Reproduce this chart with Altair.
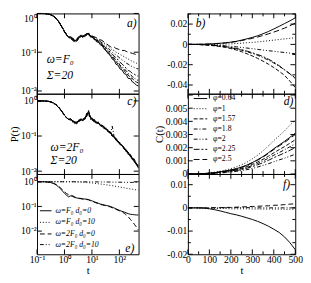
import altair as alt
import pandas as pd

FONT = "Liberation Serif"

# ---------------- data: left (log-log) panels ----------------
T_EARLY = [0.1, 0.15, 0.2, 0.25, 0.3, 0.4, 0.5, 0.6, 0.7, 0.85, 1.0, 1.2, 1.4]
T_LATE = [1.7, 2.0, 2.4, 2.8, 3.3, 4.0, 4.7, 5.5, 6.5, 7.5, 9.0, 10.5, 12, 14,
          17, 20, 24, 28, 33, 40, 47, 55, 65, 75, 90, 105, 125, 150, 175, 210,
          250, 300, 350, 420, 500]

P_EARLY_A = [1.0, 0.998, 0.99, 0.97, 0.94, 0.85, 0.74, 0.63, 0.53, 0.42, 0.34, 0.28, 0.245]
P_EARLY_C = [1.0, 0.998, 0.99, 0.975, 0.95, 0.87, 0.77, 0.67, 0.58, 0.47, 0.39, 0.33, 0.3]
P_EARLY_FLAT = [1.0, 1.0, 1.0, 1.0, 1.0, 1.0, 1.0, 1.0, 1.0, 1.0, 1.0, 1.0, 1.0]

# panel a (omega = F0, Sigma = 20)
A_064 = [0.24, 0.22, 0.2, 0.21, 0.25, 0.26, 0.25, 0.28, 0.3, 0.3, 0.26, 0.25, 0.22, 0.21,
         0.19, 0.155, 0.15, 0.12, 0.108, 0.09, 0.082, 0.066, 0.062, 0.049, 0.046, 0.037,
         0.035, 0.028, 0.027, 0.021, 0.021, 0.017, 0.016, 0.014, 0.0135]
A_1 = [0.23, 0.21, 0.2, 0.21, 0.24, 0.28, 0.25, 0.27, 0.31, 0.28, 0.26, 0.25, 0.24, 0.23,
       0.21, 0.2, 0.185, 0.17, 0.155, 0.14, 0.125, 0.115, 0.11, 0.1, 0.094, 0.088,
       0.082, 0.077, 0.072, 0.067, 0.062, 0.058, 0.055, 0.052, 0.05]
A_157 = [0.24, 0.21, 0.2, 0.19, 0.23, 0.27, 0.25, 0.26, 0.28, 0.32, 0.25, 0.24, 0.23, 0.19,
         0.18, 0.175, 0.14, 0.13, 0.11, 0.097, 0.082, 0.075, 0.063, 0.058, 0.048, 0.044,
         0.037, 0.034, 0.028, 0.026, 0.022, 0.021, 0.018, 0.017, 0.016]
A_18 = [0.23, 0.2, 0.18, 0.2, 0.24, 0.24, 0.26, 0.25, 0.3, 0.28, 0.26, 0.23, 0.22, 0.2,
        0.2, 0.165, 0.16, 0.13, 0.12, 0.1, 0.092, 0.078, 0.072, 0.06, 0.056, 0.046,
        0.043, 0.036, 0.034, 0.028, 0.027, 0.023, 0.022, 0.019, 0.019]
A_2 = [0.24, 0.22, 0.19, 0.2, 0.23, 0.25, 0.27, 0.26, 0.29, 0.3, 0.25, 0.24, 0.22, 0.22,
       0.2, 0.19, 0.17, 0.155, 0.14, 0.125, 0.11, 0.1, 0.092, 0.085, 0.077, 0.07,
       0.064, 0.058, 0.053, 0.049, 0.045, 0.042, 0.04, 0.038, 0.037]
A_225 = [0.22, 0.2, 0.19, 0.22, 0.22, 0.26, 0.24, 0.29, 0.27, 0.31, 0.24, 0.26, 0.21, 0.21,
         0.19, 0.175, 0.16, 0.14, 0.13, 0.11, 0.1, 0.088, 0.08, 0.07, 0.064, 0.055,
         0.05, 0.043, 0.039, 0.034, 0.032, 0.028, 0.027, 0.025, 0.024]
A_25 = [0.25, 0.23, 0.21, 0.22, 0.25, 0.27, 0.26, 0.28, 0.3, 0.29, 0.27, 0.26, 0.25, 0.24,
        0.22, 0.21, 0.2, 0.18, 0.17, 0.15, 0.14, 0.13, 0.135, 0.125, 0.12, 0.115,
        0.11, 0.112, 0.105, 0.1, 0.097, 0.093, 0.09, 0.087, 0.084]

# panel c (omega = 2F0, Sigma = 20)
C_064 = [0.3, 0.27, 0.25, 0.24, 0.28, 0.3, 0.27, 0.33, 0.4, 0.5, 0.33, 0.3, 0.28, 0.25,
         0.24, 0.2, 0.2, 0.17, 0.16, 0.13, 0.13, 0.1, 0.095, 0.075, 0.07, 0.058,
         0.055, 0.042, 0.04, 0.03, 0.029, 0.021, 0.02, 0.015, 0.0125]
C_1 = [0.28, 0.25, 0.22, 0.26, 0.25, 0.32, 0.29, 0.3, 0.37, 0.42, 0.3, 0.28, 0.26, 0.27,
       0.22, 0.22, 0.18, 0.19, 0.15, 0.15, 0.12, 0.12, 0.088, 0.088, 0.065, 0.066,
       0.05, 0.048, 0.036, 0.035, 0.025, 0.025, 0.018, 0.017, 0.014]
C_157 = [0.31, 0.26, 0.24, 0.22, 0.27, 0.28, 0.3, 0.31, 0.45, 0.38, 0.35, 0.27, 0.3, 0.23,
         0.25, 0.2, 0.19, 0.16, 0.17, 0.13, 0.125, 0.1, 0.1, 0.08, 0.072, 0.06,
         0.056, 0.045, 0.041, 0.033, 0.03, 0.023, 0.021, 0.016, 0.0135]
C_18 = [0.29, 0.28, 0.23, 0.25, 0.26, 0.3, 0.28, 0.35, 0.36, 0.55, 0.3, 0.32, 0.26, 0.26,
        0.23, 0.21, 0.2, 0.18, 0.15, 0.145, 0.115, 0.19, 0.09, 0.083, 0.066, 0.063,
        0.05, 0.046, 0.037, 0.032, 0.027, 0.022, 0.019, 0.0155, 0.013]
C_2 = [0.3, 0.26, 0.26, 0.23, 0.29, 0.27, 0.31, 0.3, 0.39, 0.44, 0.32, 0.29, 0.27, 0.24,
       0.25, 0.19, 0.21, 0.165, 0.165, 0.125, 0.13, 0.1, 0.096, 0.078, 0.07, 0.057,
       0.056, 0.043, 0.042, 0.031, 0.03, 0.022, 0.022, 0.016, 0.015]
C_225 = [0.28, 0.27, 0.24, 0.24, 0.26, 0.29, 0.27, 0.32, 0.42, 0.4, 0.31, 0.3, 0.25, 0.25,
         0.22, 0.21, 0.18, 0.18, 0.15, 0.14, 0.12, 0.11, 0.09, 0.09, 0.066, 0.065,
         0.05, 0.047, 0.037, 0.034, 0.026, 0.024, 0.018, 0.017, 0.012]
C_25 = [0.31, 0.25, 0.25, 0.22, 0.27, 0.31, 0.28, 0.31, 0.38, 0.47, 0.34, 0.28, 0.29, 0.24,
        0.24, 0.2, 0.2, 0.17, 0.16, 0.135, 0.125, 0.105, 0.095, 0.08, 0.07, 0.06,
        0.054, 0.044, 0.039, 0.032, 0.028, 0.022, 0.02, 0.0155, 0.0135]

# panel e
E_F0_D0 = [0.27, 0.25, 0.23, 0.22, 0.215, 0.21, 0.2, 0.2, 0.195, 0.19, 0.175, 0.165, 0.155, 0.145,
           0.135, 0.125, 0.12, 0.115, 0.11, 0.105, 0.1, 0.093, 0.086, 0.08, 0.073, 0.068,
           0.063, 0.059, 0.055, 0.051, 0.048, 0.047, 0.046, 0.045, 0.045]
E_F0_D10 = [1.0, 0.995, 0.99, 0.98, 0.97, 0.96, 0.95, 0.94, 0.93, 0.92, 0.9, 0.89, 0.87, 0.85,
            0.83, 0.81, 0.79, 0.77, 0.75, 0.73, 0.71, 0.69, 0.67, 0.65, 0.63, 0.61,
            0.59, 0.57, 0.55, 0.53, 0.51, 0.5, 0.48, 0.47, 0.46]
E_2F0_D0 = [0.29, 0.27, 0.24, 0.22, 0.21, 0.205, 0.2, 0.2, 0.19, 0.185, 0.17, 0.16, 0.15, 0.14,
            0.13, 0.12, 0.115, 0.11, 0.105, 0.1, 0.095, 0.088, 0.082, 0.076, 0.07, 0.065,
            0.06, 0.053, 0.046, 0.038, 0.03, 0.024, 0.019, 0.0145, 0.011]
E_2F0_D10 = [1.0, 1.0, 1.0, 1.0, 0.998, 0.997, 0.996, 0.995, 0.994, 0.993, 0.99, 0.99, 0.988, 0.986,
             0.984, 0.982, 0.98, 0.978, 0.976, 0.973, 0.97, 0.968, 0.965, 0.962, 0.96, 0.957,
             0.954, 0.95, 0.947, 0.944, 0.94, 0.937, 0.934, 0.93, 0.927]

# ---------------- data: right (linear) panels ----------------
T_R = [0, 25, 50, 75, 100, 125, 150, 175, 200, 225, 250, 275, 300, 325, 350, 375, 400, 425, 450, 475, 500]

B_064 = [0, 0, 0.0001, 0.0002, 0.0004, 0.0007, 0.0011, 0.0016, 0.0022, 0.003, 0.0042, 0.0055,
         0.0069, 0.0085, 0.0105, 0.0127, 0.0152, 0.0178, 0.0205, 0.0232, 0.0262]
B_1 = [0, 0, 0, 0, 0, 0.0001, 0.0002, 0.0003, 0.0005, 0.0008, 0.0012, 0.0016,
       0.002, 0.0025, 0.003, 0.0036, 0.0042, 0.0048, 0.0054, 0.006, 0.0066]
B_157 = [0, 0, -0.0002, -0.0005, -0.0009, -0.0014, -0.0021, -0.003, -0.0041, -0.0055, -0.0072, -0.0092,
         -0.0114, -0.0138, -0.0165, -0.0195, -0.0228, -0.0265, -0.0305, -0.0362, -0.0425]
B_18 = [0, 0, -0.0001, -0.0003, -0.0006, -0.0011, -0.0017, -0.0024, -0.0033, -0.0044, -0.0057, -0.0072,
        -0.0089, -0.0108, -0.013, -0.0155, -0.0183, -0.0215, -0.025, -0.029, -0.0335]
B_2 = [0, 0, -0.0001, -0.0002, -0.0004, -0.0007, -0.001, -0.0014, -0.0019, -0.0024, -0.003, -0.0036,
       -0.0042, -0.0049, -0.0056, -0.0062, -0.0068, -0.0074, -0.008, -0.0086, -0.0092]
B_225 = [0, 0, -0.0001, -0.0003, -0.0006, -0.001, -0.0015, -0.0022, -0.003, -0.004, -0.0052, -0.0066,
         -0.0082, -0.01, -0.012, -0.0145, -0.0175, -0.021, -0.025, -0.029, -0.033]
B_25 = [0, 0, 0.0001, 0.0002, 0.0004, 0.0006, 0.001, 0.0014, 0.002, 0.0028, 0.0038, 0.0049,
        0.006, 0.0073, 0.0088, 0.0104, 0.0121, 0.014, 0.016, 0.0184, 0.021]

D_064 = [0, 0.000003, 0.000012, 0.00003, 0.00006, 0.0001, 0.00016, 0.00023, 0.00031, 0.0004, 0.00053,
         0.00068, 0.00087, 0.00109, 0.00133, 0.00161, 0.00192, 0.0022, 0.00248, 0.00279, 0.0031]
D_1 = [0, 0, 0.00002, 0.00004, 0.00008, 0.00014, 0.00021, 0.0003, 0.00041, 0.00054, 0.0007,
       0.0009, 0.00115, 0.00143, 0.00176, 0.00213, 0.00254, 0.0029, 0.00328, 0.0037, 0.0041]
D_157 = [0, 0, 0.00001, 0.00003, 0.00005, 0.00009, 0.00014, 0.0002, 0.00026, 0.00034, 0.00044,
         0.00057, 0.00073, 0.00091, 0.00112, 0.00135, 0.00161, 0.00185, 0.00208, 0.00234, 0.0026]
D_18 = [0, 0, 0.00001, 0.00002, 0.00005, 0.00008, 0.00012, 0.00017, 0.00023, 0.0003, 0.00039,
        0.0005, 0.00064, 0.0008, 0.00099, 0.0012, 0.00143, 0.00163, 0.00184, 0.00207, 0.0023]
D_2 = [0, 0, 0.00001, 0.00002, 0.00003, 0.00005, 0.00008, 0.00011, 0.00015, 0.0002, 0.00026,
       0.00033, 0.00042, 0.00053, 0.00065, 0.00078, 0.00093, 0.00107, 0.0012, 0.00135, 0.0015]
D_225 = [0, 0, 0.00001, 0.00002, 0.00004, 0.00007, 0.0001, 0.00015, 0.0002, 0.00026, 0.00034,
         0.00044, 0.00056, 0.0007, 0.00086, 0.00104, 0.00124, 0.00142, 0.0016, 0.0018, 0.002]
D_25 = [0, 0, 0.00001, 0.00003, 0.00006, 0.0001, 0.00016, 0.00023, 0.0003, 0.00039, 0.00051,
        0.00066, 0.00084, 0.00105, 0.00129, 0.00156, 0.00186, 0.00213, 0.0024, 0.0027, 0.003]

F_F0_D0 = [0, 0, 0, -0.0001, -0.0004, -0.0008, -0.0013, -0.0019, -0.0025, -0.003, -0.0036,
           -0.0043, -0.005, -0.0058, -0.0068, -0.0079, -0.0092, -0.0106, -0.0125, -0.015, -0.018]
F_F0_D10 = [0, 0, -0.0001, -0.0002, -0.0002, -0.0003, -0.0003, -0.0003, -0.0004, -0.0004, -0.0004,
            -0.0004, -0.0005, -0.0005, -0.0005, -0.0005, -0.0005, -0.0005, -0.0006, -0.0006, -0.0006]
F_2F0_D0 = [0, 0, 0, 0, 0, 0.0001, 0.0001, 0.0002, 0.0002, 0.0003, 0.0004,
            0.0005, 0.0006, 0.0007, 0.0008, 0.0009, 0.0011, 0.0012, 0.0014, 0.0016, 0.0018]
F_2F0_D10 = [0, 0, 0, 0, 0, 0, 0, 0.0001, 0.0001, 0.0001, 0.0001,
             0.0001, 0.0001, 0, 0, 0, 0, 0, 0, 0, 0]

PHI = ["0.64", "1", "1.57", "1.8", "2", "2.25", "2.5"]
E_NAMES = ["F0_D0", "F0_D10", "2F0_D0", "2F0_D10"]
E_LABELS = ["ω=F₀  d₀=0", "ω=F₀  d₀=10", "ω=2F₀  d₀=0", "ω=2F₀  d₀=10"]

# line styles
PHI_DASH = {"0.64": None, "1": [1, 2], "1.57": [4, 2], "1.8": [4, 2, 1, 2],
            "2": [4, 2, 1, 2, 1, 2], "2.25": [6, 2, 2, 2], "2.5": [6, 3]}
E_DASH = {"F0_D0": None, "F0_D10": [1, 2], "2F0_D0": [5, 3], "2F0_D10": [4, 2, 1, 2, 1, 2]}


def long_df(t, series):
    rows = []
    for name, vals in series:
        for tt, vv in zip(t, vals):
            rows.append({"t": tt, "v": vv, "s": name})
    return pd.DataFrame(rows)


T_LEFT = T_EARLY + T_LATE
df_a = long_df(T_LEFT, [("0.64", P_EARLY_A + A_064), ("1", P_EARLY_A + A_1), ("1.57", P_EARLY_A + A_157),
                        ("1.8", P_EARLY_A + A_18), ("2", P_EARLY_A + A_2), ("2.25", P_EARLY_A + A_225),
                        ("2.5", P_EARLY_A + A_25)])
df_c = long_df(T_LEFT, [("0.64", P_EARLY_C + C_064), ("1", P_EARLY_C + C_1), ("1.57", P_EARLY_C + C_157),
                        ("1.8", P_EARLY_C + C_18), ("2", P_EARLY_C + C_2), ("2.25", P_EARLY_C + C_225),
                        ("2.5", P_EARLY_C + C_25)])
df_e = long_df(T_LEFT, [("F0_D0", P_EARLY_A + E_F0_D0), ("F0_D10", P_EARLY_FLAT + E_F0_D10),
                        ("2F0_D0", P_EARLY_C + E_2F0_D0), ("2F0_D10", P_EARLY_FLAT + E_2F0_D10)])
df_b = long_df(T_R, [("0.64", B_064), ("1", B_1), ("1.57", B_157), ("1.8", B_18), ("2", B_2),
                     ("2.25", B_225), ("2.5", B_25)])
df_d = long_df(T_R, [("0.64", D_064), ("1", D_1), ("1.57", D_157), ("1.8", D_18), ("2", D_2),
                     ("2.25", D_225), ("2.5", D_25)])
df_f = long_df(T_R, [("F0_D0", F_F0_D0), ("F0_D10", F_F0_D10), ("2F0_D0", F_2F0_D0), ("2F0_D10", F_2F0_D10)])

WL, WR, H = 105, 111, 83
TICK, MINOR = 5, 3

SUP = ("datum.value > 50 ? '10²' : datum.value > 5 ? '10¹' : datum.value > 0.5 ? '10⁰' : "
       "datum.value > 0.05 ? '10⁻¹' : datum.value > 0.005 ? '10⁻²' : '10⁻³'")
PLAIN = "'' + datum.value"


def panel(df, names, dashes, xs, ys, xax, yax, W, xt, yt, xtm=(), ytm=(), texts=(), legend=None):
    layers = []
    for n in names:
        mk = dict(color="black", strokeWidth=1.0, clip=True)
        if dashes[n]:
            mk["strokeDash"] = dashes[n]
        layers.append(
            alt.Chart(df).transform_filter(alt.datum.s == n).mark_line(**mk)
            .encode(x=alt.X("t:Q", scale=xs, axis=xax), y=alt.Y("v:Q", scale=ys, axis=yax))
        )
    for vals, ln in ((xt, TICK), (xtm, MINOR)):
        if len(vals):
            d = pd.DataFrame({"t": list(vals)})
            for y0, y1 in ((0, ln), (H, H - ln)):
                layers.append(alt.Chart(d).mark_rule(color="black", strokeWidth=1)
                              .encode(x=alt.X("t:Q", scale=xs, axis=xax), y=alt.value(y0), y2=alt.value(y1)))
    for vals, ln in ((yt, TICK), (ytm, MINOR)):
        if len(vals):
            d = pd.DataFrame({"v": list(vals)})
            for x0, x1 in ((0, ln), (W, W - ln)):
                layers.append(alt.Chart(d).mark_rule(color="black", strokeWidth=1)
                              .encode(y=alt.Y("v:Q", scale=ys, axis=yax), x=alt.value(x0), x2=alt.value(x1)))
    for txt, x, y, size, style, align in texts:
        layers.append(alt.Chart(pd.DataFrame({"label": [txt]}))
                      .mark_text(font=FONT, fontSize=size, fontStyle=style, align=align, baseline="middle",
                                 color="black")
                      .encode(text="label:N", x=alt.value(x), y=alt.value(y)))
    if legend:
        (lx0, lx1, tx, size, style, entries) = legend
        for lab, dash, y in entries:
            mk = dict(color="black", strokeWidth=1.0)
            if dash:
                mk["strokeDash"] = dash
            layers.append(alt.Chart(pd.DataFrame({"label": [lab]})).mark_rule(**mk)
                          .encode(x=alt.value(lx0), x2=alt.value(lx1), y=alt.value(y)))
            layers.append(alt.Chart(pd.DataFrame({"label": [lab]}))
                          .mark_text(font=FONT, fontSize=size, fontStyle=style, align="left",
                                     baseline="middle", color="black")
                          .encode(text="label:N", x=alt.value(tx), y=alt.value(y)))
    return alt.layer(*layers).properties(width=W, height=H)


def ax(values=None, expr=None, title=None, flush=False, tpad=1):
    kw = dict(values=values, labelExpr=expr, ticks=False, domain=False, grid=False,
              labelPadding=1, labelFlush=flush)
    if title:
        kw["title"] = title
        kw["titlePadding"] = tpad
    else:
        kw["title"] = None
    return alt.Axis(**kw)


xs_log = alt.Scale(type="log", domain=[0.1, 500], nice=False)
LOG_XT = [0.1, 1, 10, 100]

# panel a
pa = panel(df_a, PHI, PHI_DASH, xs_log, alt.Scale(type="log", domain=[0.0085, 1], nice=False),
           None, ax([1, 0.1, 0.01], SUP, flush=True), WL, LOG_XT, [1, 0.1, 0.01],
           texts=[("a)", WL - 7, 10, 12, "italic", "center"),
                  ("ω=F₀", 10, 47, 12, "italic", "left"),
                  ("Σ=20", 10, 64, 12, "italic", "left")])
# panel c
pc = panel(df_c, PHI, PHI_DASH, xs_log, alt.Scale(type="log", domain=[0.0083, 1.6], nice=False),
           None, ax([1, 0.1, 0.01], SUP, title="P(t)"), WL, LOG_XT, [1, 0.1, 0.01],
           texts=[("c)", WL - 7, 8, 12, "italic", "center"),
                  ("ω=2F₀", 14, 55, 12, "italic", "left"),
                  ("Σ=20", 14, 69, 12, "italic", "left")])
# panel e
pe = panel(df_e, E_NAMES, E_DASH, xs_log, alt.Scale(type="log", domain=[0.00115, 2.06], nice=False),
           ax(LOG_XT, SUP, title="t", tpad=0), ax([1, 0.1, 0.01], SUP), WL, LOG_XT, [1, 0.1, 0.01],
           texts=[("e)", WL - 9, 77, 12, "italic", "center")],
           legend=(3, 15, 19, 8, "italic",
                   [(E_LABELS[0], E_DASH["F0_D0"], 38), (E_LABELS[1], E_DASH["F0_D10"], 50),
                    (E_LABELS[2], E_DASH["2F0_D0"], 62), (E_LABELS[3], E_DASH["2F0_D10"], 73)]))

xs_lin = alt.Scale(domain=[0, 500], nice=False)
LIN_XT = [0, 100, 200, 300, 400, 500]
LIN_XTM = [50, 150, 250, 350, 450]

pb = panel(df_b, PHI, PHI_DASH, xs_lin, alt.Scale(domain=[-0.0486, 0.0305], nice=False, zero=False),
           None, ax([0.02, 0, -0.02, -0.04], PLAIN), WR, LIN_XT, [0.02, 0, -0.02, -0.04],
           LIN_XTM, [0.03, 0.01, -0.01, -0.03],
           texts=[("b)", 13, 10, 12, "italic", "center")])
pd_ = panel(df_d, PHI, PHI_DASH, xs_lin, alt.Scale(domain=[0, 0.0061], nice=False),
            None, ax([0, 0.001, 0.002, 0.003, 0.004, 0.005], PLAIN, title="C(t)"), WR, LIN_XT,
            [0, 0.001, 0.002, 0.003, 0.004, 0.005, 0.006], LIN_XTM, [],
            texts=[("d)", WR - 7, 8, 12, "italic", "center")],
            legend=(6, 20, 26, 8, "normal",
                    [("φ=" + p, PHI_DASH[p], y) for p, y in zip(PHI, [5, 15.5, 26, 36.5, 47, 57.5, 68])]))
pf = panel(df_f, E_NAMES, E_DASH, xs_lin, alt.Scale(domain=[-0.02, 0.0146], nice=False, zero=False),
           ax(LIN_XT, PLAIN, title="t", tpad=0), ax([0.01, 0, -0.01, -0.02], PLAIN), WR, LIN_XT,
           [0.01, 0, -0.01, -0.02], LIN_XTM, [0.005, -0.005, -0.015],
           texts=[("f)", WR - 9, 10, 12, "italic", "center")])

left = alt.vconcat(pa, pc, pe, spacing=0, bounds="flush")
right = alt.vconcat(pb, pd_, pf, spacing=0, bounds="flush")

chart = (
    alt.hconcat(left, right, spacing=14)
    .properties(padding={"left": 0, "top": 0, "right": 0, "bottom": 0})
    .configure_view(stroke="black", strokeWidth=1)
    .configure_axis(labelFont=FONT, titleFont=FONT, labelFontSize=10, titleFontSize=11,
                    labelColor="black", titleColor="black", titleFontWeight="normal")
)

chart.save("out.html", embed_options={"renderer": "svg", "actions": False})
